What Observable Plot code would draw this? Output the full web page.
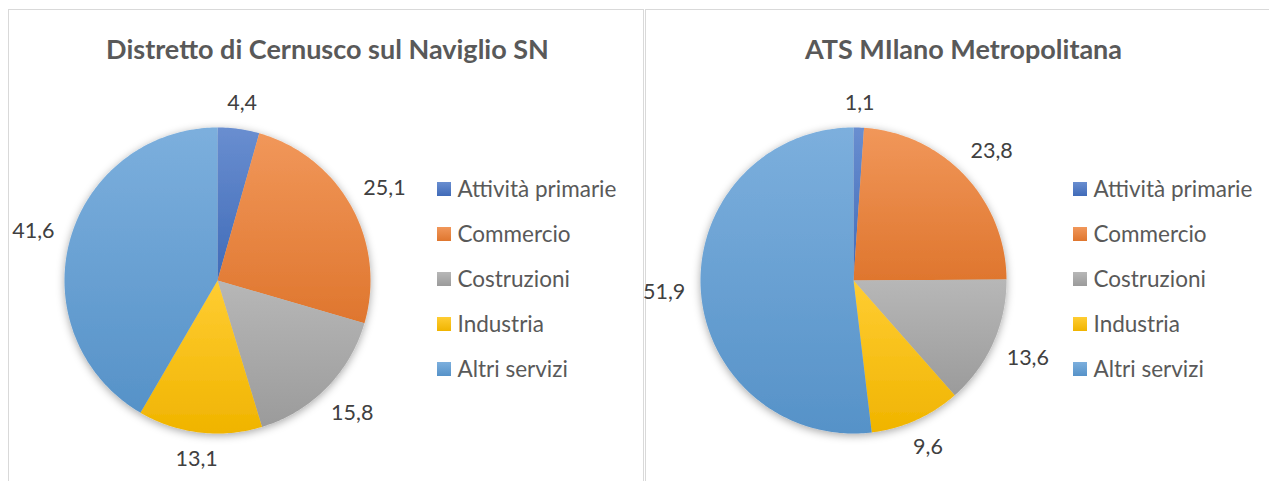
<!DOCTYPE html>
<html><head><meta charset="utf-8">
<script src="https://cdn.jsdelivr.net/npm/d3@7"></script>
<script src="https://cdn.jsdelivr.net/npm/@observablehq/plot@0.6"></script>
<style>
html,body{margin:0;padding:0;background:#fff;width:1269px;height:481px;overflow:hidden;position:relative;}
.panel{position:absolute;top:9px;height:490px;border:1.5px solid #d9d9d9;box-sizing:border-box;}
#p1{left:8px;width:636px;}
#p2{left:645px;width:660px;}
.chart{position:absolute;top:0;width:640px;height:481px;}
.chart svg{max-width:none !important;}
</style></head><body>
<div class="panel" id="p1"></div><div class="panel" id="p2"></div>
<div class="chart" id="c1" style="left:8px"></div>
<div class="chart" id="c2" style="left:644px"></div>
<script>
// ---- data ----
const categories = ["Attività primarie", "Commercio", "Costruzioni", "Industria", "Altri servizi"];
const distrettoValues = [4.4, 25.1, 15.8, 13.1, 41.6];
const atsValues = [1.1, 23.8, 13.6, 9.6, 51.9];
const chartTitles = ["Distretto di Cernusco sul Naviglio SN", "ATS MIlano Metropolitana"];
const seriesColors = ["#4472C4", "#ED7D31", "#A5A5A5", "#FFC000", "#5B9BD5"];

// ---- layout ----
const L = {width: 640, height: 481, cx: 209, cy: 280, r: 153, gap: 15,
  legendX: 429, legendTextX: 449, legendY0: 189, legendStep: 45, sw: 14,
  titleX: 319, titleY: 50, font: "Lato", labelSize: 21.5, legendSize: 22.5, titleSize: 27};

const ctx = document.createElement("canvas").getContext("2d");
ctx.font = `${L.labelSize}px ${L.font}`;
const fmt = v => d3.format(".1f")(v).replace(".", ",");

function pieChart(values, title, prefix) {
  const total = d3.sum(values);
  const slices = [];
  const labels = [];
  let cum = 0;
  values.forEach((v, i) => {
    const a0 = cum / total * 2 * Math.PI;
    cum += v;
    const a1 = cum / total * 2 * Math.PI;
    const n = Math.max(2, Math.ceil((a1 - a0) / (Math.PI / 180)));
    slices.push({slice: i, px: L.cx, py: L.cy});
    for (let k = 0; k <= n; ++k) {
      const a = a0 + (a1 - a0) * k / n;
      slices.push({slice: i, px: L.cx + L.r * Math.sin(a), py: L.cy - L.r * Math.cos(a)});
    }
    const am = (a0 + a1) / 2;
    const ux = Math.sin(am), uy = -Math.cos(am);
    const text = fmt(v);
    const hw = ctx.measureText(text).width / 2, hh = 9;
    const d = L.r + L.gap + hw * Math.abs(ux) + hh * Math.abs(uy);
    labels.push({text, lx: L.cx + d * ux, ly: L.cy + d * uy});
  });
  const legend = categories.map((c, i) => ({c, i, y: L.legendY0 + i * L.legendStep}));
  const grad = i => `url(#${prefix}-g${i})`;

  const svg = Plot.plot({
    width: L.width, height: L.height, margin: 0,
    x: {type: "linear", domain: [0, L.width], range: [0, L.width], axis: null},
    y: {type: "linear", domain: [0, L.height], range: [0, L.height], axis: null},
    color: {type: "identity"},
    style: {fontFamily: L.font, background: "transparent"},
    marks: [
      Plot.line(slices, {x: "px", y: "py", z: "slice", fill: d => grad(d.slice), stroke: "none"}),
      Plot.text(labels, {x: "lx", y: "ly", text: "text", fontSize: L.labelSize, fill: "#404040", fontFamily: L.font, textAnchor: "middle", lineAnchor: "middle"}),
      Plot.rect(legend, {x1: L.legendX, x2: L.legendX + L.sw, y1: d => d.y - L.sw / 2, y2: d => d.y + L.sw / 2, fill: d => grad(d.i)}),
      Plot.text(legend, {x: L.legendTextX, y: "y", text: "c", fontSize: L.legendSize, fill: "#595959", fontFamily: L.font, textAnchor: "start", lineAnchor: "middle"}),
      Plot.text([title], {x: L.titleX, y: L.titleY, text: d => d, fontSize: L.titleSize, fontWeight: "bold", fill: "#595959", fontFamily: L.font, textAnchor: "middle", lineAnchor: "middle"})
    ]
  });
  const s = d3.select(svg);
  const defs = s.insert("defs", ":first-child");
  seriesColors.forEach((c, i) => {
    const g = defs.append("linearGradient").attr("id", `${prefix}-g${i}`).attr("x1", 0).attr("y1", 0).attr("x2", 0).attr("y2", 1);
    g.append("stop").attr("offset", "0%").attr("stop-color", d3.interpolateRgb(c, "#fff")(0.2));
    g.append("stop").attr("offset", "100%").attr("stop-color", d3.interpolateRgb(c, "#000")(0.06));
  });
  defs.append("filter").attr("id", `${prefix}-sh`).attr("x", "-20%").attr("y", "-20%").attr("width", "140%").attr("height", "140%")
    .append("feDropShadow").attr("dx", 0).attr("dy", 2).attr("stdDeviation", 4).attr("flood-color", "#000").attr("flood-opacity", 0.35);
  s.select('g[aria-label="line"]').attr("filter", `url(#${prefix}-sh)`);
  return svg;
}

document.getElementById("c1").append(pieChart(distrettoValues, chartTitles[0], "a"));
document.getElementById("c2").append(pieChart(atsValues, chartTitles[1], "b"));
</script>
</body></html>
